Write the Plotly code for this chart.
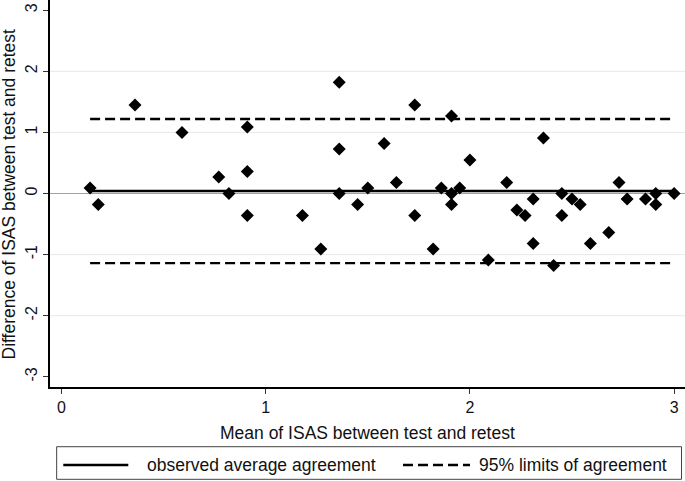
import plotly.graph_objects as go

# Data (Bland-Altman plot)
mean_isas = [0.14, 0.18, 0.36, 0.59, 0.77, 0.82, 0.91, 0.91, 0.91, 1.18, 1.27, 1.36, 1.36, 1.36,
             1.45, 1.50, 1.58, 1.64, 1.73, 1.73, 1.82, 1.86, 1.91, 1.91, 1.91, 1.95, 2.00, 2.09,
             2.18, 2.23, 2.27, 2.31, 2.31, 2.36, 2.41, 2.45, 2.45, 2.50, 2.54, 2.59, 2.68, 2.73,
             2.77, 2.86, 2.91, 2.91, 3.00]
diff_isas = [0.09, -0.18, 1.45, 1.00, 0.27, 0.00, 1.09, 0.36, -0.36, -0.36, -0.91, 1.82, 0.73, 0.00,
             -0.18, 0.09, 0.82, 0.18, 1.45, -0.36, -0.91, 0.09, 1.27, 0.00, -0.18, 0.09, 0.55, -1.09,
             0.18, -0.27, -0.36, -0.09, -0.82, 0.91, -1.18, 0.00, -0.36, -0.09, -0.18, -0.82, -0.64, 0.18,
             -0.09, -0.09, 0.00, -0.18, 0.00]
mean_diff = 0.04
loa_upper = 1.22
loa_lower = -1.14
x_ticks = [0, 1, 2, 3]
y_ticks = [-3, -2, -1, 0, 1, 2, 3]
y_tick_labels = ["-3", "-2", "-1", "0", "1", "2", "3"]
grid_vals = [-2, -1, 1, 2]
legend_labels = ["observed average agreement", "95% limits of agreement"]

FONT = "Liberation Sans, Arial, sans-serif"
xmin, xmax = min(mean_isas), max(mean_isas)
DASH = "10px,5px"

fig = go.Figure()
fig.add_trace(go.Scatter(x=mean_isas, y=diff_isas, mode="markers",
                         marker=dict(symbol="diamond", size=10, color="black"),
                         showlegend=False, hoverinfo="skip"))
fig.add_trace(go.Scatter(x=[xmin, xmax], y=[mean_diff, mean_diff], mode="lines",
                         line=dict(color="black", width=2.4), showlegend=False, hoverinfo="skip"))
for v in (loa_upper, loa_lower):
    fig.add_trace(go.Scatter(x=[xmin, xmax], y=[v, v], mode="lines",
                             line=dict(color="black", width=2.4, dash=DASH),
                             showlegend=False, hoverinfo="skip"))

shapes = []
for g in grid_vals:
    shapes.append(dict(type="line", xref="paper", yref="y", x0=0, x1=1, y0=g, y1=g,
                       line=dict(color="#e8e8e8", width=1), layer="below"))
shapes.append(dict(type="line", xref="paper", yref="y", x0=0, x1=1, y0=0, y1=0,
                   line=dict(color="#a0a0a0", width=1), layer="below"))
# legend box (manual)
shapes.append(dict(type="rect", xref="paper", yref="paper", x0=0.0105, x1=0.9945,
                   y0=-0.2385, y1=-0.1543, line=dict(color="#444444", width=1)))
shapes.append(dict(type="line", xref="paper", yref="paper", x0=0.0209, x1=0.1233,
                   y0=-0.2016, y1=-0.2016, line=dict(color="black", width=2.4)))
shapes.append(dict(type="line", xref="paper", yref="paper", x0=0.5559, x1=0.6614,
                   y0=-0.2016, y1=-0.2016, line=dict(color="black", width=2.4, dash=DASH)))

annotations = [
    dict(text=legend_labels[0], xref="paper", yref="paper", x=0.1496, y=-0.2016,
         xanchor="left", yanchor="middle", showarrow=False,
         font=dict(family=FONT, size=17.5, color="#111111")),
    dict(text=legend_labels[1], xref="paper", yref="paper", x=0.6720, y=-0.2016,
         xanchor="left", yanchor="middle", showarrow=False,
         font=dict(family=FONT, size=17.5, color="#111111")),
    dict(text="Mean of ISAS between test and retest", xref="paper", yref="paper",
         x=0.5, y=-0.119, xanchor="center", yanchor="middle", showarrow=False,
         font=dict(family=FONT, size=17.5, color="#111111")),
    dict(text="Difference of ISAS between test and retest", xref="paper", yref="paper",
         x=-0.0646, y=0.5, xanchor="center", yanchor="middle", textangle=-90, showarrow=False,
         font=dict(family=FONT, size=17.5, color="#111111")),
]

fig.update_layout(
    width=685, height=481,
    margin=dict(l=50, r=0, t=0, b=94),
    paper_bgcolor="white", plot_bgcolor="white",
    font=dict(family=FONT, size=16, color="#111111"),
    shapes=shapes, annotations=annotations,
    hovermode=False,
    xaxis=dict(range=[-0.0563, 3.0533], tickvals=x_ticks, showgrid=False, zeroline=False,
               showline=True, linecolor="black", linewidth=2, ticks="outside", ticklen=5,
               tickcolor="#333333", tickwidth=1, tickfont=dict(size=16)),
    yaxis=dict(range=[-3.167, 3.167], tickvals=y_ticks, ticktext=y_tick_labels,
               showgrid=False, zeroline=False,
               showline=True, linecolor="black", linewidth=2, ticks="outside", ticklen=5,
               tickcolor="#333333", tickwidth=1, tickangle=-90, tickfont=dict(size=16)),
)

fig.write_html("out.html", config={"displayModeBar": False},
               post_script="document.body.style.margin='0';document.body.style.overflow='hidden';")
